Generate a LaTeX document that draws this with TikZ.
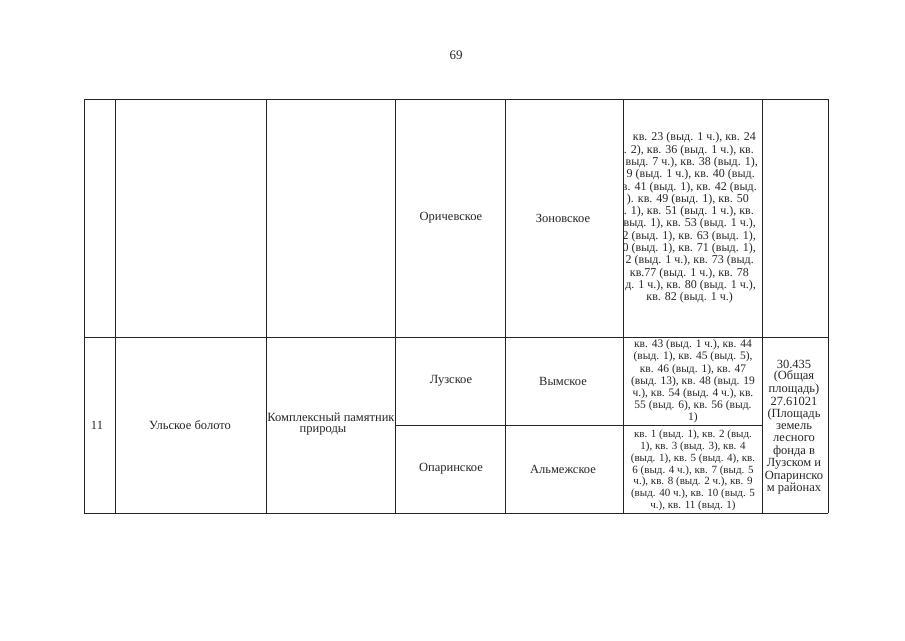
\documentclass[tikz,border=0pt]{standalone}
\usepackage{fontspec}
\setmainfont{Liberation Serif}
\newcommand\fsz{\fontsize{11}{12}\selectfont}
\tikzset{
  gridline/.style={line width=0.9pt, draw=black!85},
  t/.style={font=\fsz, inner sep=0pt, text=black!85},
  tr/.style={t, anchor=east, font=\fontsize{12}{13}\selectfont},
  big/.style={t, font=\fontsize{12.5}{13}\selectfont},
}
\begin{document}
\begin{tikzpicture}[x=1pt,y=-1pt]
\useasboundingbox (0,0) rectangle (905,640);
% page number
\node[t, font=\fontsize{13}{14}\selectfont] (pg) at (456,55) {69};
% grid
\draw[gridline] (84,99) -- (828,99);
\draw[gridline] (84,337) -- (828,337);
\draw[gridline] (84,513) -- (828,513);
\draw[gridline] (395,425) -- (762,425);
\foreach \x in {84,115,266,395,505,623,762,828} \draw[gridline] (\x,99) -- (\x,513);
% row 1
\node[big] (or) at (451,218) {Оричевское};
\node[big] (zo) at (563,218) {Зоновское};
\begin{scope}
\clip (624,100) rectangle (761,336);
\node[tr] (a1) at (756,138) {кв. 23 (выд. 1 ч.), кв. 24};
\node[tr] (a2) at (754,150.3) {. 2), кв. 36 (выд. 1 ч.), кв.};
\node[tr] (a3) at (758,162.6) {выд. 7 ч.), кв. 38 (выд. 1),};
\node[tr] (a4) at (755,174.9) {9 (выд. 1 ч.), кв. 40 (выд.};
\node[tr] (a5) at (757,187.2) {в. 41 (выд. 1), кв. 42 (выд.};
\node[tr] (a6) at (749,199.5) {). кв. 49 (выд. 1), кв. 50};
\node[tr] (a7) at (754,211.8) {. 1), кв. 51 (выд. 1 ч.), кв.};
\node[tr] (a8) at (756,224.1) {выд. 1), кв. 53 (выд. 1 ч.),};
\node[tr] (a9) at (756,236.4) {2 (выд. 1), кв. 63 (выд. 1),};
\node[tr] (a10) at (756,248.7) {0 (выд. 1), кв. 71 (выд. 1),};
\node[tr] (a11) at (754,261) {2 (выд. 1 ч.), кв. 73 (выд.};
\node[tr] (a12) at (749,273.3) {кв.77 (выд. 1 ч.), кв. 78};
\node[tr] (a13) at (756,285.6) {д. 1 ч.), кв. 80 (выд. 1 ч.),};
\node[tr] (a14) at (733,297.9) {кв. 82 (выд. 1 ч.)};
\end{scope}
% row 2
\node[big] (n11) at (97,425) {11};
\node[big] (ul) at (190,425) {Ульское болото};
\node[big] (km1) at (331,417) {Комплексный памятник};
\node[big] (km2) at (323,431) {природы};
\node[big] (lu) at (451,381) {Лузское};
\node[big] (vy) at (563,381) {Вымское};
\node[big] (op) at (451,469) {Опаринское};
\node[big] (al) at (563,469) {Альмежское};
\foreach \s [count=\i] in {
  {кв. 43 (выд. 1 ч.), кв. 44},
  {(выд. 1), кв. 45 (выд. 5),},
  {кв. 46 (выд. 1), кв. 47},
  {(выд. 13), кв. 48 (выд. 19},
  {ч.), кв. 54 (выд. 4 ч.), кв.},
  {55 (выд. 6), кв. 56 (выд.},
  {1)}}
  {\node[t, font=\fontsize{11.5}{12}\selectfont] (b\i) at (693,{345+(\i-1)*12.2}) {\s};}
\foreach \s [count=\i] in {
  {кв. 1 (выд. 1), кв. 2 (выд.},
  {1), кв. 3 (выд. 3), кв. 4},
  {(выд. 1), кв. 5 (выд. 4), кв.},
  {6 (выд. 4 ч.), кв. 7 (выд. 5},
  {ч.), кв. 8 (выд. 2 ч.), кв. 9},
  {(выд. 40 ч.), кв. 10 (выд. 5},
  {ч.), кв. 11 (выд. 1)}}
  {\node[t] (c\i) at (693,{435+(\i-1)*11.8}) {\s};}
\foreach \s [count=\i] in {
  {30.435}, {(Общая}, {площадь)}, {27.61021}, {(Площадь}, {земель}, {лесного},
  {фонда в}, {Лузском и}, {Опаринско}, {м районах}}
  {\node[t, font=\fontsize{12.5}{13}\selectfont] (d\i) at (794,{364+(\i-1)*12.5}) {\s};}
\end{tikzpicture}
\end{document}
